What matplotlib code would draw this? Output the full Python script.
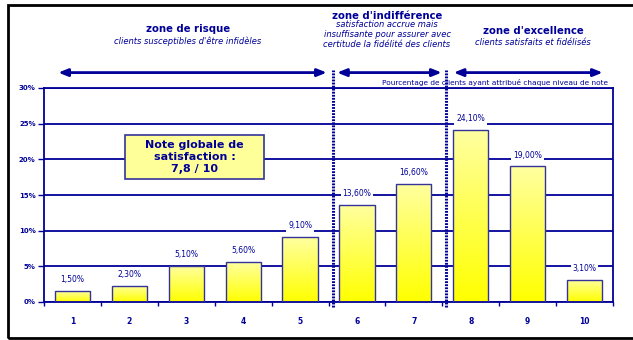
import numpy as np
import matplotlib
matplotlib.use('Agg')
import matplotlib.pyplot as plt
from matplotlib.patches import Rectangle
from matplotlib.colors import LinearSegmentedColormap

# data
notes = ['1', '2', '3', '4', '5', '6', '7', '8', '9', '10']
pourcentages = [1.5, 2.3, 5.1, 5.6, 9.1, 13.6, 16.6, 24.1, 19.0, 3.1]
etiquettes = ['1,50%', '2,30%', '5,10%', '5,60%', '9,10%', '13,60%', '16,60%', '24,10%', '19,00%', '3,10%']
y_ticks = [0, 5, 10, 15, 20, 25, 30]

NAVY = '#000099'
W, H = 633, 340

plt.rcParams['font.family'] = ['DejaVu Sans']

fig = plt.figure(figsize=(W / 100, H / 100), dpi=100)

def fx(x):
    return x / W

def fy(y):
    return 1 - y / H

ax = fig.add_axes([fx(44), fy(302), fx(613) - fx(44), fy(88) - fy(302)])

x = np.arange(1, len(notes) + 1)
bars = ax.bar(x, pourcentages, width=0.62, color='none', edgecolor='#333399', linewidth=1.0, zorder=3)

# yellow gradient inside each bar
cmap = LinearSegmentedColormap.from_list('jaune', ['#FFFF00', '#FFFFA0'])
grad = np.linspace(0, 1, 100).reshape(-1, 1)
for b in bars:
    im = ax.imshow(grad, cmap=cmap, origin='lower', aspect='auto', zorder=2,
                   extent=[b.get_x(), b.get_x() + b.get_width(), 0, b.get_height()])
    im.set_clip_path(b)

for xi, v, lab in zip(x, pourcentages, etiquettes):
    ax.annotate(lab, (xi, v), xytext=(0, 5), textcoords='offset points',
                ha='center', va='bottom', fontsize=5.5, color=NAVY, zorder=4,
                bbox=dict(boxstyle='square,pad=0.25', fc='white', ec='none'))

ax.set_xlim(0.5, 10.5)
ax.set_ylim(0, 30)
ax.set_yticks(y_ticks)
ax.set_yticklabels([f'{t}%' for t in y_ticks], fontsize=5, fontweight='bold', color=NAVY)
ax.set_xticks(np.arange(0.5, 11, 1))
ax.set_xticklabels([])
ax.set_xticks(x, minor=True)
ax.set_xticklabels(notes, minor=True, fontsize=5.5, fontweight='bold', color=NAVY)
ax.tick_params(axis='x', which='major', length=3, color=NAVY, width=1)
ax.tick_params(axis='x', which='minor', length=0, pad=11)
ax.tick_params(axis='y', length=4, color=NAVY, width=1, pad=2)
ax.yaxis.grid(True, color=NAVY, linewidth=1.3)
ax.set_axisbelow(True)
for s in ax.spines.values():
    s.set_color(NAVY)
    s.set_linewidth(1.3)

# zone separators (dotted)
trans = ax.get_xaxis_transform()
for xs in [5.58, 7.565]:
    ax.plot([xs, xs], [-0.025, 1.085], transform=trans, color=NAVY, lw=2.2,
            linestyle=(0, (0.6, 0.4)), clip_on=False, zorder=5)

# zone arrows
for x0, x1 in [(0.75, 5.47), (5.65, 7.49), (7.7, 10.32)]:
    ax.annotate('', xy=(x1, 1.072), xytext=(x0, 1.072), xycoords=trans, textcoords=trans,
                arrowprops=dict(arrowstyle='<|-|>,head_length=0.55,head_width=0.22',
                                color=NAVY, lw=2.0, shrinkA=0, shrinkB=0))

# zone titles
fig.text(fx(188), fy(34), 'zone de risque', ha='center', va='bottom', fontsize=7.3, fontweight='bold', color=NAVY)
fig.text(fx(188), fy(36), "clients susceptibles d'être infidèles", ha='center', va='top', fontsize=6, style='italic', color=NAVY)
fig.text(fx(387), fy(21), "zone d'indifférence", ha='center', va='bottom', fontsize=7.3, fontweight='bold', color=NAVY)
fig.text(fx(387), fy(20), 'satisfaction accrue mais\ninsuffisante pour assurer avec\ncertitude la fidélité des clients',
         ha='center', va='top', fontsize=6, style='italic', color=NAVY, linespacing=1.15)
fig.text(fx(533), fy(36), "zone d'excellence", ha='center', va='bottom', fontsize=7.3, fontweight='bold', color=NAVY)
fig.text(fx(533), fy(38), 'clients satisfaits et fidélisés', ha='center', va='top', fontsize=6, style='italic', color=NAVY)
fig.text(fx(608), fy(86), 'Pourcentage de clients ayant attribué chaque niveau de note',
         ha='right', va='bottom', fontsize=5.3, color=NAVY, zorder=6)

# note globale box
fig.patches.append(Rectangle((fx(125), fy(179)), fx(264) - fx(125), fy(135) - fy(179),
                             transform=fig.transFigure, fc='#FFFF99', ec='#333399', lw=1.2, zorder=6))
fig.text(fx(194.5), fy(157), 'Note globale de\nsatisfaction :\n7,8 / 10', ha='center', va='center',
         fontsize=8, fontweight='bold', color=NAVY, linespacing=1.25, zorder=7)

# outer black frame
fig.patches.append(Rectangle((fx(8), fy(338)), 1.1, fy(5) - fy(338), transform=fig.transFigure,
                             fc='none', ec='black', lw=2, zorder=0))

fig.savefig('out.png', dpi=100)
